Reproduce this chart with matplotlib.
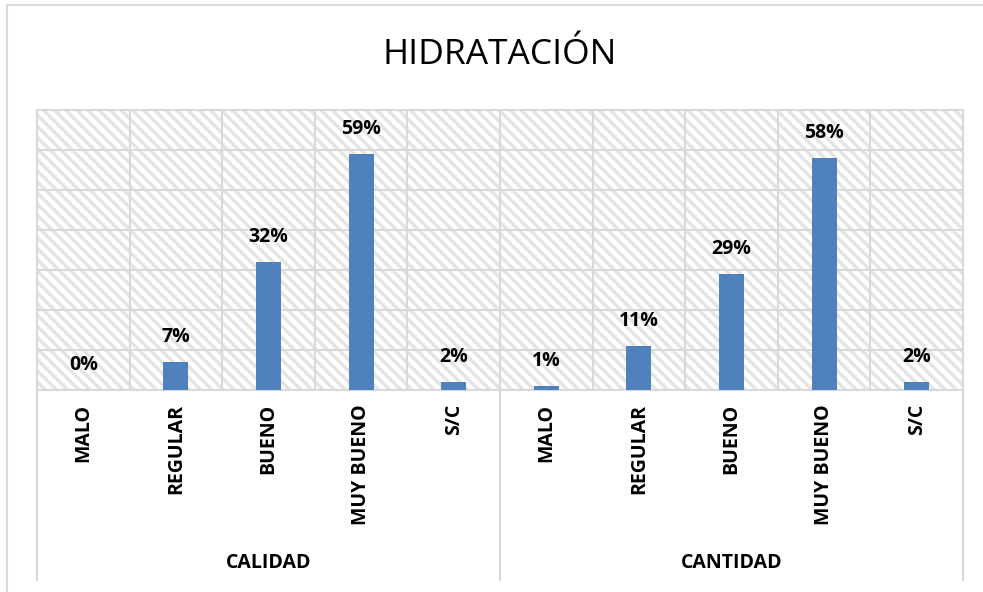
import matplotlib
matplotlib.use("Agg")
import matplotlib.pyplot as plt
from matplotlib.patches import Rectangle
from matplotlib.lines import Line2D
import matplotlib.transforms as mtransforms

# data
groups = ["CALIDAD", "CANTIDAD"]
categories = ["MALO", "REGULAR", "BUENO", "MUY BUENO", "S/C"]
calidad = [0, 7, 32, 59, 2]
cantidad = [1, 11, 29, 58, 2]

plt.rcParams['font.family'] = ['Open Sans', 'DejaVu Sans']
plt.rcParams['hatch.color'] = '#e4e4e4'
plt.rcParams['hatch.linewidth'] = 2.5

grid_col = '#d9d9d9'
bar_col = '#4f81bd'

fig = plt.figure(figsize=(9.83, 5.92), dpi=100)
W, H = 983.0, 592.0

# outer chart border
fig.patches.append(Rectangle((7 / W, -0.1), 1.2, 1 - 5 / H + 0.1, transform=fig.transFigure,
                             fill=False, edgecolor=grid_col, linewidth=1.5))

ax = fig.add_axes([37 / W, 1 - 390 / H, (963 - 37) / W, 280 / H])

values = calidad + cantidad
labels = categories + categories
x = list(range(len(values)))

# hatched background
ax.add_patch(Rectangle((-0.5, 0), len(values), 70, facecolor='white', edgecolor='#e4e4e4',
                       hatch='\\\\\\', linewidth=0, zorder=0))

bars = ax.bar(x, values, width=0.27, color=bar_col, zorder=3)
for xi, v in zip(x, values):
    ax.annotate(f"{v}%", (xi, v), xytext=(0, 18), textcoords='offset points',
                ha='center', va='center', fontsize=14, fontweight='bold', zorder=4)

ax.set_xlim(-0.5, len(values) - 0.5)
ax.set_ylim(0, 70)
ax.set_yticks(range(0, 71, 10))
ax.yaxis.grid(True, color=grid_col, linewidth=1.5, zorder=1)
for b in range(len(values) + 1):
    ax.axvline(b - 0.5, color=grid_col, linewidth=1.5, zorder=1)
ax.tick_params(length=0, labelleft=False, labelbottom=False)
for s in ax.spines.values():
    s.set_color(grid_col)
    s.set_linewidth(1.5)

# category labels
trans = mtransforms.blended_transform_factory(ax.transData, ax.transAxes)
for xi, lab in zip(x, labels):
    ax.text(xi, -14 / 280, lab, transform=trans, rotation=90, ha='center', va='top',
            fontsize=14, fontweight='bold')

# group labels and separators
n = len(categories)
for gi, g in enumerate(groups):
    ax.text(gi * n + (n - 1) / 2, -173 / 280, g, transform=trans, ha='center', va='center',
            fontsize=14, fontweight='bold')
for b in [-0.5, n - 0.5, 2 * n - 0.5]:
    ax.add_line(Line2D([b, b], [0, -190 / 280], transform=trans, color=grid_col,
                       linewidth=1.5, clip_on=False))

fig.text(500 / W, 1 - 55 / H, "HIDRATACIÓN", ha='center', va='center', fontsize=25.5)

fig.savefig("out.png", dpi=100)
